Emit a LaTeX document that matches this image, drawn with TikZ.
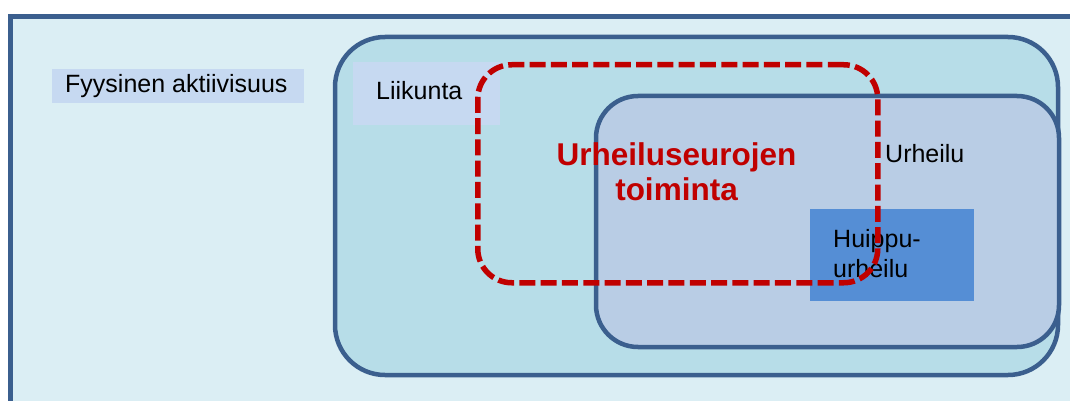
\documentclass[tikz,border=0pt]{standalone}
\usepackage{fontspec}
\setmainfont{Liberation Sans}
\definecolor{edgeblue}{HTML}{3B5F8E}
\definecolor{outerfill}{HTML}{DBEEF4}
\definecolor{liikfill}{HTML}{B7DDE8}
\definecolor{urhfill}{HTML}{B9CDE5}
\definecolor{labfill}{HTML}{C6D9F1}
\definecolor{topfill}{HTML}{558ED5}
\definecolor{clubred}{HTML}{C00000}
\begin{document}
\begin{tikzpicture}[x=1pt,y=-1pt,
  area/.style={draw=edgeblue, line width=4.5pt, anchor=north west, inner sep=0pt, outer sep=0pt},
  labbox/.style={fill=labfill, anchor=north west, inner sep=0pt, outer sep=0pt},
  txt/.style={anchor=base west, inner sep=0pt, font=\fontsize{25}{30}\selectfont},
  redtxt/.style={anchor=base, inner sep=0pt, text=clubred, font=\fontsize{31.5}{36}\selectfont\bfseries}
]
\useasboundingbox (0,0) rectangle (1070,401);
\clip (0,0) rectangle (1070,401);
\node[area, fill=outerfill, line width=5pt, minimum width=1100pt, minimum height=420pt] (outer) at (10,17) {};
\node[labbox, minimum width=252pt, minimum height=34pt] (fyybox) at (52,69) {};
\node[txt] (fyy) at (65,93) {Fyysinen aktiivisuus};
\node[area, fill=liikfill, rounded corners=50pt, minimum width=723pt, minimum height=338pt] (liik) at (335,37) {};
\node[labbox, minimum width=147pt, minimum height=63pt] (liikbox) at (353,62) {};
\node[txt] (liiktxt) at (376,100) {Liikunta};
\node[area, fill=urhfill, rounded corners=42pt, minimum width=463pt, minimum height=251pt] (urh) at (596,96) {};
\node[txt] (urhtxt) at (885,162) {Urheilu};
\node[fill=topfill, anchor=north west, inner sep=0pt, outer sep=0pt, minimum width=164pt, minimum height=92pt] (hbox) at (810,209) {};
\node[txt] (h1) at (833,247) {Huippu-};
\node[txt] (h2) at (833,277) {urheilu};
\node[draw=clubred, line width=5.5pt, dash pattern=on 16pt off 5.3pt, rounded corners=34pt, anchor=north west, inner sep=0pt, minimum width=400pt, minimum height=218pt] (club) at (475,62) {};
\node[redtxt] (r1) at (676.5,165) {Urheiluseurojen};
\node[redtxt] (r2) at (676.5,200) {toiminta};
\end{tikzpicture}
\end{document}
